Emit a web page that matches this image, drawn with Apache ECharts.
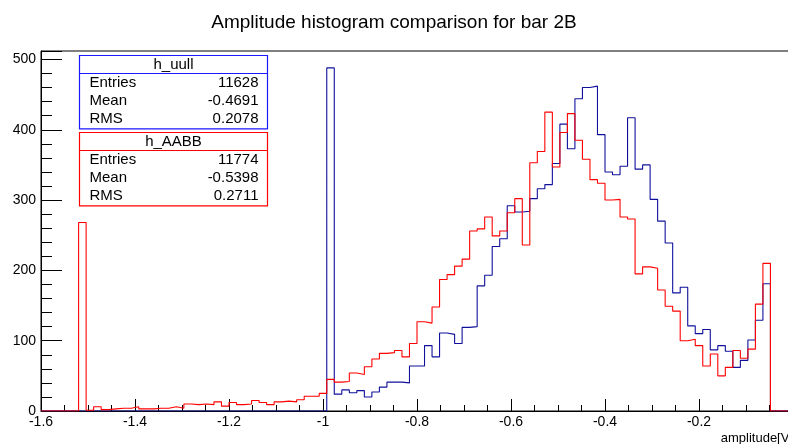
<!DOCTYPE html>
<html>
<head>
<meta charset="utf-8">
<script src="https://cdn.jsdelivr.net/npm/echarts@6/dist/echarts.min.js"></script>
<style>
html,body{margin:0;padding:0;background:#fff;}
#chart{width:788px;height:444px;}
</style>
</head>
<body>
<div id="chart"></div>
<script>
// ---- Data ----
const titleText = 'Amplitude histogram comparison for bar 2B';
const xTitle = 'amplitude[V]';
const binStart = -1.6;
const binWidth = 0.016;
const xTickLabels = ['-1.6', '-1.4', '-1.2', '-1', '-0.8', '-0.6', '-0.4', '-0.2', '0'];
const yTickLabels = ['0', '100', '200', '300', '400', '500'];

// h_uull (blue), 100 bins
const blueCounts = [
  0,0,0,0,0,0,0,0,0,0,
  0,0,0,0,0,0,0,0,0,0,
  0,0,0,0,0,0,0,0,0,0,
  0,0,0,0,0,0,0,0,488,24,
  30,26,29,20,27,34,41,41,40,64,
  64,93,77,111,109,96,119,120,178,193,
  234,245,292,283,284,302,316,322,352,408,
  373,444,460,462,393,340,336,348,417,344,
  350,301,270,239,168,176,121,110,116,87,
  93,85,62,72,101,129,181,0,0,0
];
// h_AABB (red), 100 bins
const redCounts = [
  0,0,0,0,0,268,1,6,2,3,
  4,4,6,3,3,4,4,6,4,10,
  9,10,9,13,7,12,9,10,15,12,
  9,13,14,13,16,21,21,25,45,41,
  42,54,52,63,74,82,83,86,77,96,
  127,125,148,187,194,206,216,256,259,276,
  249,256,282,302,236,353,369,425,347,396,
  423,385,358,329,324,300,301,276,273,195,
  205,203,172,149,142,100,102,93,64,81,
  50,62,86,75,88,152,210,0,0,0
];

const blueName = 'h_uull';
const redName = 'h_AABB';
const statLabels = ['Entries', 'Mean', 'RMS'];
const blueStats = ['11628', '-0.4691', '0.2078'];
const redStats = ['11774', '-0.5398', '0.2711'];

// ---- Build step points from bins ----
function histPoints(counts) {
  const pts = [];
  for (let k = 0; k < counts.length; k++) {
    pts.push([binStart + k * binWidth, counts[k]]);
  }
  pts.push([binStart + counts.length * binWidth, counts[counts.length - 1]]);
  return pts;
}

const FONT = '"Liberation Sans", Arial, Helvetica, sans-serif';
const BLUE_LINE = '#10109c';
const BLUE_BOX = '#1a1aff';
const RED = '#ff0000';

function statBox(x, y, w, color, name, labels, vals) {
  const rowH = 17.8;
  const headH = 18;
  const h = headH + rowH * labels.length + 2;
  const children = [
    { type: 'rect', shape: { x: x, y: y, width: w, height: h },
      style: { fill: '#fff', stroke: color, lineWidth: 1.2 } },
    { type: 'line', shape: { x1: x, y1: y + headH, x2: x + w, y2: y + headH },
      style: { stroke: color, lineWidth: 1.2 } },
    { type: 'text', style: { x: x + w / 2, y: y + headH / 2 + 0.5, text: name,
      font: '15px ' + FONT, fill: '#000', align: 'center', verticalAlign: 'middle' } }
  ];
  for (let i = 0; i < labels.length; i++) {
    const cy = y + headH + rowH * (i + 0.5) + 0.5;
    children.push({ type: 'text', style: { x: x + 10, y: cy, text: labels[i],
      font: '15px ' + FONT, fill: '#000', align: 'left', verticalAlign: 'middle' } });
    children.push({ type: 'text', style: { x: x + w - 9, y: cy, text: vals[i],
      font: '15px ' + FONT, fill: '#000', align: 'right', verticalAlign: 'middle' } });
  }
  return { type: 'group', children: children };
}

const gridBox = { left: 41, top: 51, right: -5, bottom: 33, containLabel: false, outerBoundsMode: 'none' };

const chart = echarts.init(document.getElementById('chart'), null, { renderer: 'canvas' });
const option = {
  animation: false,
  backgroundColor: '#fff',
  title: {
    text: titleText, left: 'center', top: 8,
    textStyle: { fontFamily: FONT, fontSize: 19, fontWeight: 'normal', color: '#000' }
  },
  grid: [
    Object.assign({ show: true, borderColor: '#000', borderWidth: 1, backgroundColor: 'transparent' }, gridBox),
    Object.assign({ show: false }, gridBox)
  ],
  xAxis: [
    {
      type: 'value', min: -1.6, max: 0, interval: 0.2, gridIndex: 0, position: 'bottom',
      axisLine: { show: true, onZero: false, lineStyle: { color: '#000', width: 1 } },
      axisTick: { show: true, inside: true, length: 12, lineStyle: { color: '#000' } },
      minorTick: { show: true, splitNumber: 4, length: 6, lineStyle: { color: '#000' } },
      splitLine: { show: false },
      axisLabel: { margin: 4, fontFamily: FONT, fontSize: 14, color: '#000',
        formatter: function (v) { const i = Math.round((v - binStart) / 0.2); return xTickLabels[i] !== undefined ? xTickLabels[i] : ''; } }
    },
    {
      type: 'value', min: -1.6, max: 0, gridIndex: 1, show: false, position: 'bottom',
      axisLine: { onZero: false }
    }
  ],
  yAxis: [
    {
      type: 'value', min: 0, max: 512, interval: 100, position: 'left', gridIndex: 0,
      axisLine: { show: true, onZero: false, lineStyle: { color: '#000', width: 1 } },
      axisTick: { show: true, inside: true, length: 21, lineStyle: { color: '#000' } },
      splitLine: { show: false },
      axisLabel: { margin: 5, fontFamily: FONT, fontSize: 14, color: '#000',
        formatter: function (v) { const i = Math.round(v / 100); return (Math.abs(v - i * 100) < 1e-6 && yTickLabels[i] !== undefined) ? yTickLabels[i] : ''; } }
    },
    {
      type: 'value', min: 0, max: 512, interval: 20, position: 'left', gridIndex: 1,
      axisLine: { show: false, onZero: false },
      axisTick: { show: true, inside: true, length: 11, lineStyle: { color: '#000' } },
      splitLine: { show: false },
      axisLabel: { show: false }
    }
  ],
  series: [
    { name: blueName, type: 'line', step: 'end', showSymbol: false, symbol: 'none',
      xAxisIndex: 0, yAxisIndex: 0,
      data: histPoints(blueCounts), lineStyle: { color: BLUE_LINE, width: 1.1 }, z: 2 },
    { name: redName, type: 'line', step: 'end', showSymbol: false, symbol: 'none',
      xAxisIndex: 0, yAxisIndex: 0,
      data: histPoints(redCounts), lineStyle: { color: RED, width: 1.1 }, z: 3 }
  ],
  graphic: [
    statBox(79.5, 55.5, 188, BLUE_BOX, blueName, statLabels, blueStats),
    statBox(79.5, 132.5, 188, RED, redName, statLabels, redStats),
    { type: 'text', style: { x: 793, y: 432, text: xTitle, font: '13px ' + FONT, fill: '#000', align: 'right', verticalAlign: 'top' } }
  ]
};
chart.setOption(option);
</script>
</body>
</html>
